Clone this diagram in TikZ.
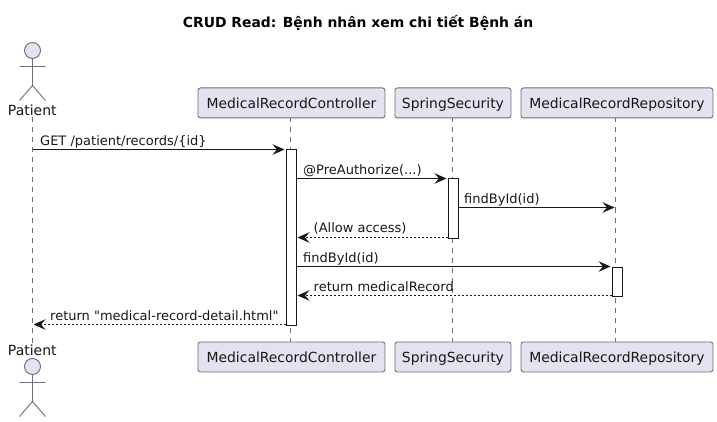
\documentclass[tikz,border=0pt]{standalone}
\usepackage{fontspec}
\setmainfont[Ligatures=TeXOff]{DejaVu Sans}
\usetikzlibrary{arrows.meta}
\definecolor{partfill}{HTML}{E2E2F0}
\definecolor{ink}{HTML}{181818}
\definecolor{soft}{HTML}{6E6E76}
\tikzset{
  x=1pt,y=-1pt,
  part/.style={draw=soft,line width=0.9pt,fill=partfill,rounded corners=2.5pt,minimum height=30pt,inner sep=0pt,text=ink,font=\fontsize{13.9}{16}\selectfont,anchor=north west,text depth=0pt},
  bar/.style={draw=ink,line width=1pt,fill=white,minimum width=10pt,inner sep=0pt,anchor=north west},
  lifeline/.style={draw=soft,line width=0.7pt,dash pattern=on 5pt off 5pt},
  actorline/.style={draw=soft,line width=0.9pt},
  tipstyle/.style={-{Stealth[length=12pt,width=10.5pt,inset=4.5pt]}},
  msg/.style={draw=ink,line width=1pt,tipstyle,shorten >=1pt},
  ret/.style={draw=ink,line width=1pt,tipstyle,dash pattern=on 2pt off 2pt,shorten >=1pt},
  lab/.style={anchor=base west,inner sep=0pt,font=\fontsize{13}{15}\selectfont,text=ink},
  actorlab/.style={anchor=base,inner sep=0pt,font=\fontsize{14}{16}\selectfont,text=ink},
}
\begin{document}
\begin{tikzpicture}
\useasboundingbox (0,0) rectangle (717,422);
\fill[white] (0,0) rectangle (717,422);
\node[anchor=base,inner sep=0pt,font=\fontsize{13.9}{16}\selectfont\bfseries] (title) at (358,28) {CRUD Read: Bệnh nhân xem chi tiết Bệnh án};

% rows
\coordinate (r1) at (0,149.5);
\coordinate (r2) at (0,178.5);
\coordinate (r3) at (0,207.5);
\coordinate (r4) at (0,237.5);
\coordinate (r5) at (0,266.5);
\coordinate (r6) at (0,295.5);
\coordinate (r7) at (0,324.5);

% lifeline ends
\coordinate (pTop) at (32.5,117.5);
\coordinate (pBot) at (32.5,343);
\coordinate (cTop) at (290.5,117.5);
\coordinate (cBot) at (290.5,341.5);
\coordinate (sTop) at (452.5,117.5);
\coordinate (sBot) at (452.5,341.5);
\coordinate (rTop) at (615.5,117.5);
\coordinate (rBot) at (615.5,341.5);
\draw[lifeline] (pTop) -- (pBot);
\draw[lifeline] (cTop) -- (cBot);
\draw[lifeline] (sTop) -- (sBot);
\draw[lifeline] (rTop) -- (rBot);

% participants
\node[part,minimum width=187pt] (c1) at (197.5,87.5) {MedicalRecordController};
\node[part,minimum width=116pt] (s1) at (394.5,87.5) {SpringSecurity};
\node[part,minimum width=192pt] (m1) at (520.5,87.5) {MedicalRecordRepository};
\node[part,minimum width=187pt] (c2) at (197.5,341.5) {MedicalRecordController};
\node[part,minimum width=116pt] (s2) at (394.5,341.5) {SpringSecurity};
\node[part,minimum width=192pt] (m2) at (520.5,341.5) {MedicalRecordRepository};

% actors
\node[actorlab] (p1) at (32.3,115.5) {Patient};
\node[actorlab] (p2) at (32.3,355) {Patient};
\draw[actorline,fill=partfill] (32.5,50.5) circle[radius=8];
\draw[actorline] (32.5,58.5) -- (32.5,85.5) (19.5,66.5) -- (45.5,66.5) (19.5,100.5) -- (32.5,85.5) -- (45.5,100.5);
\draw[actorline,fill=partfill] (32.5,366.5) circle[radius=8];
\draw[actorline] (32.5,374.5) -- (32.5,401.5) (19.5,382.5) -- (45.5,382.5) (19.5,416.5) -- (32.5,401.5) -- (45.5,416.5);

% activations
\node[bar,minimum height=175pt] (cbar) at (285.5,149.5) {};
\node[bar,minimum height=59pt] (sbar) at (447.5,178.5) {};
\node[bar,minimum height=29pt] (rbar) at (611.5,266.5) {};

% messages
\draw[msg] (pTop |- r1) -- (cbar.west |- r1);
\node[lab] (l1) at (40,146) {GET /patient/records/\{id\}};
\draw[msg] (cbar.east |- r2) -- (sbar.west |- r2);
\node[lab] (l2) at (303,175) {@PreAuthorize(...)};
\draw[msg] (sbar.east |- r3) -- (rTop |- r3);
\node[lab] (l3) at (464,204) {findById(id)};
\draw[ret] (sbar.west |- r4) -- (cbar.east |- r4);
\node[lab] (l4) at (313.5,233) {(Allow access)};
\draw[msg] (cbar.east |- r5) -- (rbar.west |- r5);
\node[lab] (l5) at (303,262.5) {findById(id)};
\draw[ret] (rbar.west |- r6) -- (cbar.east |- r6);
\node[lab] (l6) at (313.5,291.5) {return medicalRecord};
\draw[ret] (cbar.west |- r7) -- (pTop |- r7);
\node[lab] (l7) at (50,320.5) {return "medical-record-detail.html"};
\end{tikzpicture}
\end{document}
